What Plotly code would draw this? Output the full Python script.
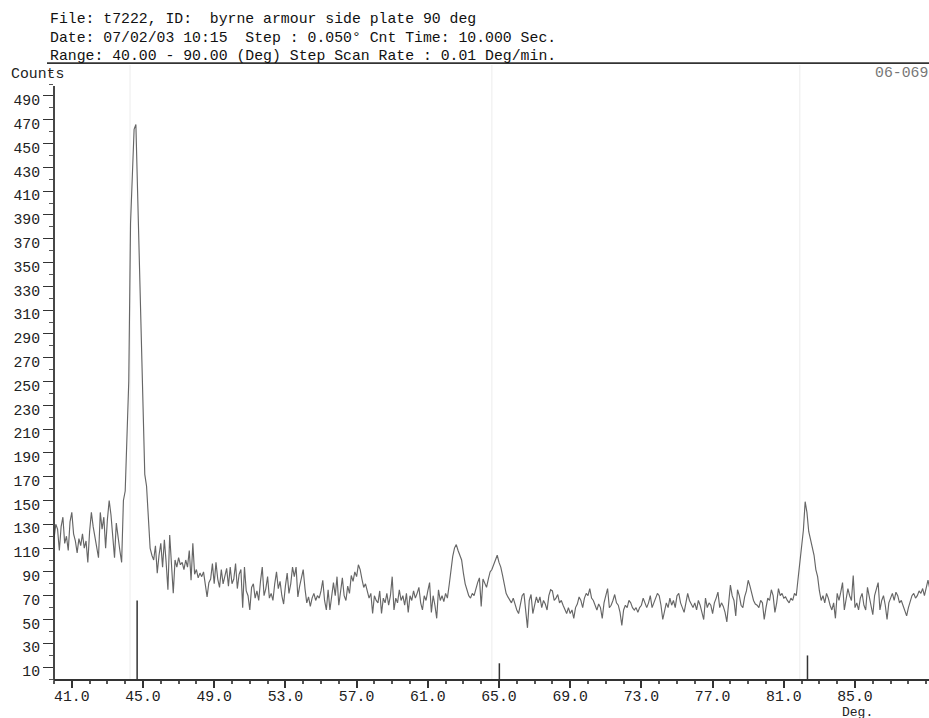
import numpy as np
import plotly.graph_objects as go

# ---- scan data (2-theta grid 40.0 .. 89.2 deg, 0.1 deg step; one row per degree) ----
start_angle = 40.0
step_deg = 0.1
counts = [
    118, 130, 126, 108, 128, 136, 114, 120, 108, 132,  # 40
    140, 122, 116, 106, 118, 112, 122, 110, 116, 98,   # 41
    124, 140, 128, 118, 110, 102, 140, 126, 136, 110,  # 42
    134, 150, 138, 120, 102, 131, 118, 108, 98, 150,   # 43
    158, 196, 250, 383, 430, 462, 466, 403, 347, 289,  # 44
    230, 172, 162, 130, 110, 104, 100, 112, 89, 104,   # 45
    114, 94, 117, 98, 75, 121, 96, 72, 100, 94,        # 46
    102, 96, 98, 92, 100, 94, 108, 83, 114, 88,        # 47
    92, 85, 89, 86, 90, 78, 69, 81, 84, 97,            # 48
    80, 98, 84, 77, 92, 80, 86, 93, 78, 94,            # 49
    80, 84, 97, 76, 88, 92, 60, 94, 74, 70,            # 50
    58, 77, 80, 68, 74, 66, 82, 94, 70, 76,            # 51
    86, 68, 72, 66, 80, 90, 76, 82, 70, 63,            # 52
    78, 89, 72, 80, 94, 86, 94, 69, 78, 84,            # 53
    92, 76, 64, 69, 61, 68, 72, 66, 70, 68,            # 54
    74, 83, 66, 58, 75, 58, 72, 81, 70, 86,            # 55
    62, 74, 85, 70, 66, 78, 72, 87, 82, 90,            # 56
    86, 96, 92, 84, 77, 80, 75, 68, 72, 55,            # 57
    70, 66, 64, 74, 55, 68, 64, 72, 62, 70,            # 58
    86, 58, 68, 64, 75, 66, 70, 62, 72, 56,            # 59
    70, 66, 74, 68, 72, 77, 64, 58, 70, 66,            # 60
    74, 81, 56, 70, 62, 51, 75, 66, 70, 65,            # 61
    72, 68, 79, 94, 103, 110, 113, 108, 104, 100,      # 62
    89, 80, 75, 70, 68, 72, 70, 76, 81, 85,            # 63
    61, 84, 80, 77, 84, 90, 92, 96, 100, 104,          # 64
    98, 94, 87, 80, 72, 69, 66, 64, 68, 62,            # 65
    58, 55, 64, 70, 72, 58, 43, 66, 71, 55,            # 66
    62, 69, 64, 69, 60, 66, 63, 58, 70, 75,            # 67
    74, 66, 68, 71, 64, 66, 62, 58, 55, 60,            # 68
    55, 58, 51, 60, 63, 69, 66, 60, 68, 72,            # 69
    70, 76, 68, 66, 62, 58, 63, 60, 51, 64,            # 70
    70, 76, 60, 62, 66, 71, 64, 62, 56, 45,            # 71
    58, 62, 60, 66, 64, 60, 58, 60, 56, 60,            # 72
    62, 68, 64, 60, 64, 70, 60, 64, 68, 72,            # 73
    70, 62, 50, 58, 64, 60, 68, 62, 66, 60,            # 74
    70, 72, 64, 60, 56, 64, 72, 66, 63, 60,            # 75
    64, 58, 66, 62, 56, 50, 68, 60, 64, 62,            # 76
    55, 64, 68, 73, 60, 64, 61, 56, 48, 66,            # 77
    79, 70, 66, 53, 75, 70, 62, 60, 69, 74,            # 78
    83, 78, 72, 66, 63, 62, 60, 66, 64, 50,            # 79
    60, 68, 66, 75, 70, 56, 64, 76, 70, 72,            # 80
    68, 69, 66, 64, 68, 66, 72, 70, 84, 98,            # 81
    110, 125, 149, 140, 124, 118, 110, 104, 92, 86,    # 82
    74, 66, 70, 64, 72, 68, 62, 58, 64, 51,            # 83
    72, 66, 73, 81, 58, 66, 76, 70, 66, 87,            # 84
    60, 64, 58, 68, 72, 62, 58, 77, 70, 62,            # 85
    54, 70, 76, 81, 58, 66, 70, 62, 50, 64,            # 86
    68, 72, 66, 73, 70, 64, 66, 62, 58, 53,            # 87
    60, 66, 70, 72, 68, 70, 74, 72, 76, 70,            # 88
    78, 83, 76,                                        # 89
]
angles = np.round(start_angle + step_deg * np.arange(len(counts)), 2)

# ---- reference card 06-0696 sticks ----
card_angles = [44.67, 65.02, 82.33]
card_rel_intensity = [100, 20, 30]
card_height_per_pct = 0.66
guide_angles = [44.27, 64.6, 81.9]

# ---- texts / ticks ----
header_lines = [
    "File: t7222, ID:  byrne armour side plate 90 deg",
    "Date: 07/02/03 10:15  Step : 0.050\u00b0 Cnt Time: 10.000 Sec.",
    "Range: 40.00 - 90.00 (Deg) Step Scan Rate : 0.01 Deg/min.",
]
card_label = "06-0696"
y_title = "Counts"
x_title = "Deg."
y_ticks = list(range(10, 500, 20))
x_ticks = [41, 45, 49, 53, 57, 61, 65, 69, 73, 77, 81, 85]
x_range = [40.0, 89.157]
y_range = [0, 516]

MONO = "Liberation Mono, Courier New, monospace"
FS = 14.8
INK = "#222222"

fig = go.Figure()

# card sticks
sx, sy = [], []
for a, r in zip(card_angles, card_rel_intensity):
    sx += [a, a, None]
    sy += [0, r * card_height_per_pct, None]
fig.add_trace(go.Scatter(x=sx, y=sy, mode="lines",
                         line=dict(color="#333333", width=1.5),
                         hoverinfo="skip", showlegend=False))

# scan
fig.add_trace(go.Scatter(x=angles, y=counts, mode="lines",
                         line=dict(color="#666666", width=1.15),
                         showlegend=False))

shapes = []
for g in guide_angles:
    shapes.append(dict(type="line", xref="x", yref="paper", x0=g, x1=g, y0=0, y1=1,
                       line=dict(color="#ececec", width=1), layer="below"))
# top rule
shapes.append(dict(type="line", xref="paper", yref="paper", x0=-0.008, x1=1, y0=1.003, y1=1.003,
                   line=dict(color="#333333", width=1.6)))
# y axis line (stops just above top tick)
shapes.append(dict(type="line", xref="paper", yref="paper", x0=0, x1=0, y0=-0.003, y1=0.966,
                   line=dict(color="#333333", width=1.8)))

annotations = []
for i, t in enumerate(header_lines):
    annotations.append(dict(text=t, xref="paper", yref="paper", x=0, y=1,
                            xanchor="left", yanchor="middle", xshift=-6, yshift=46 - 18.5 * i,
                            showarrow=False, font=dict(family=MONO, size=FS, color="#111111")))
annotations.append(dict(text=y_title, xref="paper", yref="paper", x=0, y=1,
                        xanchor="left", yanchor="middle", xshift=-45, yshift=-9,
                        showarrow=False, font=dict(family=MONO, size=FS, color=INK)))
annotations.append(dict(text=card_label, xref="paper", yref="paper", x=1, y=1,
                        xanchor="left", yanchor="middle", xshift=-56, yshift=-8,
                        showarrow=False, font=dict(family=MONO, size=FS, color="#777777")))
annotations.append(dict(text=x_title, xref="paper", yref="paper", x=(857 - 54) / 875, y=0,
                        xanchor="center", yanchor="middle", yshift=-33.5,
                        showarrow=False, font=dict(family=MONO, size=13, color=INK)))

fig.update_layout(
    width=929, height=718,
    margin=dict(l=54, r=0, t=65, b=39),
    paper_bgcolor="white", plot_bgcolor="white",
    shapes=shapes, annotations=annotations,
    font=dict(family=MONO, size=FS, color=INK),
    showlegend=False,
)
fig.update_xaxes(range=x_range, tickmode="array", tickvals=x_ticks,
                 ticktext=[f"{v:.1f}" for v in x_ticks],
                 ticks="outside", ticklen=7, tickwidth=1.5, tickcolor="#333333",
                 showline=True, linewidth=2.2, linecolor="#333333",
                 showgrid=False, zeroline=False,
                 ticklabelstandoff=-5,
                 minor=dict(tick0=40, dtick=1, ticks="outside", ticklen=3, tickcolor="#555555"),
                 tickfont=dict(family=MONO, size=FS, color=INK))
fig.update_yaxes(range=y_range, tickmode="array", tickvals=y_ticks,
                 ticktext=[str(v) for v in y_ticks],
                 ticks="outside", ticklen=10, tickwidth=1.3, tickcolor="#333333",
                 showline=False, showgrid=False, zeroline=False,
                 ticklabelshift=4,
                 minor=dict(tick0=0, dtick=10, ticks="outside", ticklen=4, tickcolor="#555555"),
                 tickfont=dict(family=MONO, size=FS, color=INK))

fig.write_html("out.html")
